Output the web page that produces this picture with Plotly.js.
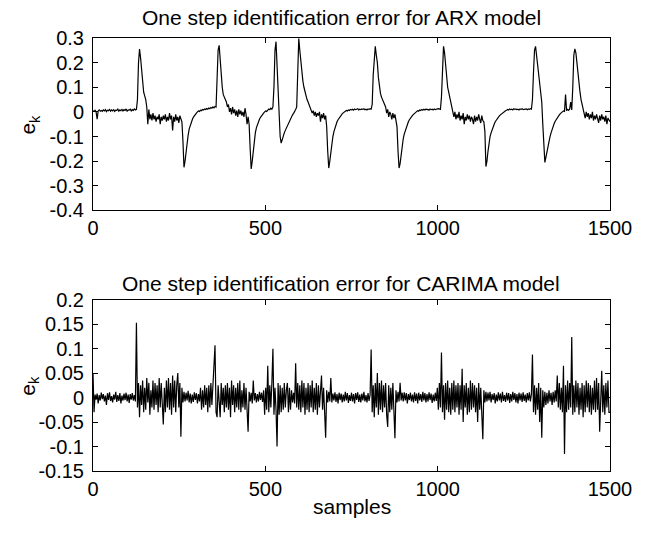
<!DOCTYPE html>
<html><head><meta charset="utf-8">
<script src="https://cdn.plot.ly/plotly-3.0.1.min.js"></script>
<style>html,body{margin:0;padding:0;background:#fff;} #chart{width:645px;height:534px;}</style>
</head><body><div id="chart"></div>
<script>
const sampleStep = 3;
const arxError = [
 0.005, 0.002, 0.007, 0.0, -0.03, 0.004, 0.008, 0.003, 0.006, 0.002,
 0.008, 0.004, 0.009, 0.001, 0.007, 0.005, 0.01, 0.003, 0.008, 0.004,
 0.009, 0.002, 0.007, 0.006, 0.011, 0.003, 0.008, 0.005, 0.01, 0.004,
 0.009, 0.006, 0.012, 0.003, 0.008, 0.007, 0.011, 0.004, 0.009, 0.006,
 0.012, 0.008, 0.01, 0.05, 0.2, 0.255, 0.22, 0.17, 0.12, 0.08,
 0.065, 0.05, 0.02, -0.05, 0.01, -0.03, -0.01, -0.035, -0.005, -0.03,
 -0.015, -0.04, -0.02, -0.03, -0.01, -0.05, -0.02, -0.035, -0.015, -0.03,
 -0.01, -0.04, -0.02, -0.035, -0.005, -0.03, -0.015, -0.075, -0.02, -0.04,
 -0.01, -0.035, -0.02, -0.045, -0.015, -0.03, -0.04, -0.12, -0.225, -0.2,
 -0.16, -0.12, -0.095, -0.07, -0.055, -0.042, -0.032, -0.022, -0.015, -0.01,
 -0.005, 0.0, 0.004, 0.002, 0.007, 0.005, 0.01, 0.008, 0.012, 0.01,
 0.014, 0.011, 0.016, 0.013, 0.018, 0.015, 0.02, 0.016, 0.022, 0.02,
 0.12, 0.25, 0.27, 0.2, 0.14, 0.1, 0.07, 0.06, 0.05, 0.04,
 0.02, 0.03, 0.0, 0.015, -0.01, 0.02, -0.005, 0.01, -0.015, 0.005,
 -0.02, 0.01, -0.01, 0.005, -0.015, 0.0, -0.02, 0.015, -0.01, -0.05,
 -0.02, -0.05, -0.15, -0.232, -0.2, -0.15, -0.11, -0.085, -0.065, -0.05,
 -0.04, -0.03, -0.022, -0.015, -0.01, -0.005, 0.0, 0.004, 0.002, 0.008,
 0.012, 0.009, 0.015, 0.011, 0.02, 0.1, 0.25, 0.285, 0.2, 0.1,
 -0.02, -0.1, -0.127, -0.11, -0.097, -0.085, -0.075, -0.065, -0.055, -0.045,
 -0.035, -0.027, -0.02, -0.012, -0.006, 0.0, 0.01, 0.02, 0.2, 0.298,
 0.25, 0.2, 0.16, 0.125, 0.1, 0.08, 0.06, 0.05, 0.04, 0.03,
 0.02, 0.01, -0.005, 0.005, -0.015, 0.0, -0.02, -0.005, -0.015, 0.0,
 -0.04, -0.01, -0.025, -0.005, -0.03, -0.015, -0.06, -0.16, -0.228, -0.2,
 -0.16, -0.125, -0.1, -0.08, -0.065, -0.052, -0.04, -0.032, -0.025, -0.018,
 -0.013, -0.008, -0.004, 0.0, 0.003, 0.006, 0.004, 0.008, 0.006, 0.01,
 0.008, 0.011, 0.007, 0.012, 0.009, 0.01, 0.013, 0.008, 0.011, 0.009,
 0.012, 0.01, 0.013, 0.009, 0.011, 0.008, 0.012, 0.01, 0.013, 0.011,
 0.03, 0.15, 0.24, 0.266, 0.23, 0.2, 0.14, 0.1, 0.075, 0.06,
 0.05, 0.04, 0.03, 0.02, -0.005, 0.01, -0.02, 0.0, -0.01, -0.03,
 -0.005, -0.025, -0.01, -0.04, -0.06, -0.16, -0.228, -0.21, -0.17, -0.14,
 -0.11, -0.09, -0.075, -0.062, -0.05, -0.04, -0.032, -0.025, -0.019, -0.014,
 -0.01, -0.006, -0.002, 0.002, 0.005, 0.003, 0.008, 0.006, 0.01, 0.007,
 0.011, 0.008, 0.012, 0.009, 0.01, 0.007, 0.012, 0.009, 0.011, 0.008,
 0.012, 0.009, 0.011, 0.01, 0.013, 0.012, 0.01, 0.06, 0.22, 0.266,
 0.24, 0.19, 0.14, 0.1, 0.08, 0.06, 0.04, 0.025, 0.005, -0.02,
 0.0, -0.03, -0.01, -0.025, 0.0, -0.035, -0.015, -0.03, -0.005, -0.05,
 -0.02, -0.035, -0.01, -0.03, -0.015, -0.04, -0.02, -0.03, -0.05, -0.015,
 -0.04, -0.02, -0.035, -0.01, -0.03, -0.045, -0.015, -0.035, -0.04, -0.08,
 -0.222, -0.2, -0.16, -0.125, -0.1, -0.085, -0.07, -0.06, -0.05, -0.04,
 -0.033, -0.027, -0.021, -0.016, -0.012, -0.008, -0.004, -0.001, 0.002, 0.005,
 0.007, 0.01, 0.008, 0.012, 0.009, 0.011, 0.008, 0.013, 0.01, 0.012,
 0.009, 0.011, 0.008, 0.012, 0.01, 0.013, 0.009, 0.011, 0.01, 0.012,
 0.009, 0.012, 0.01, 0.013, 0.011, 0.05, 0.16, 0.25, 0.266, 0.23,
 0.2, 0.16, 0.12, 0.08, 0.04, -0.05, -0.15, -0.205, -0.185, -0.16,
 -0.14, -0.12, -0.1, -0.085, -0.07, -0.058, -0.047, -0.038, -0.03, -0.023,
 -0.017, -0.012, -0.007, -0.003, 0.0, 0.004, 0.002, 0.07, 0.005, 0.01,
 0.006, 0.012, 0.04, 0.008, 0.1, 0.23, 0.256, 0.24, 0.2, 0.15,
 0.11, 0.08, 0.05, 0.03, 0.01, -0.01, -0.025, 0.0, -0.02, -0.005,
 -0.03, -0.01, -0.025, 0.0, -0.035, -0.015, -0.03, -0.01, -0.025, -0.045,
 -0.015, -0.035, -0.01, -0.03, -0.02, -0.04, -0.015, -0.05, -0.025, -0.035,
 -0.04
];
const carimaError = [
 0.05, -0.03, 0.006, -0.004, 0.008, -0.012, 0.005, -0.006, 0.01, -0.003,
 0.007, -0.008, 0.004, -0.015, 0.009, -0.005, 0.011, -0.007, 0.003, -0.01,
 0.006, -0.004, 0.012, -0.009, 0.005, -0.007, 0.009, -0.012, 0.004, -0.006,
 0.008, -0.005, 0.01, -0.008, 0.006, -0.011, 0.007, -0.004, 0.009, -0.006,
 0.005, -0.008, 0.153, -0.02, 0.03, -0.04, 0.025, -0.015, 0.035, -0.03,
 0.02, -0.025, 0.04, -0.01, 0.03, -0.035, 0.015, -0.02, 0.035, -0.025,
 0.03, -0.015, 0.025, -0.03, 0.04, -0.02, 0.03, -0.025, -0.055, 0.02,
 -0.03, 0.035, -0.02, 0.04, -0.025, 0.03, -0.035, 0.045, -0.02, 0.035,
 -0.03, 0.025, 0.05, -0.02, 0.03, -0.08, 0.02, -0.01, 0.012, -0.008,
 0.01, -0.006, 0.014, -0.01, 0.008, -0.012, 0.006, -0.009, 0.011, -0.005,
 0.009, -0.012, 0.007, -0.008, 0.02, -0.025, 0.015, -0.02, 0.025, -0.015,
 0.02, -0.03, 0.025, -0.02, 0.03, -0.015, 0.02, 0.05, 0.107, -0.03,
 -0.04, 0.025, -0.02, -0.04, 0.03, -0.015, 0.02, -0.03, 0.025, -0.02,
 0.03, -0.025, 0.02, -0.04, 0.035, -0.015, 0.025, -0.03, 0.02, -0.02,
 0.03, -0.025, 0.035, -0.03, 0.015, -0.02, 0.03, -0.025, 0.02, -0.015,
 -0.07, 0.012, -0.008, 0.01, -0.012, 0.035, -0.006, 0.009, -0.01, 0.007,
 -0.008, 0.012, -0.005, 0.01, -0.009, 0.015, -0.035, 0.02, -0.025, 0.065,
 -0.03, 0.025, -0.02, 0.03, 0.1, -0.035, 0.02, -0.025, -0.1, 0.03,
 -0.035, 0.025, -0.03, 0.02, -0.025, 0.03, -0.02, 0.015, 0.03, -0.03,
 0.02, -0.025, 0.015, -0.01, 0.01, -0.012, 0.07, -0.02, 0.03, -0.025,
 0.025, -0.03, 0.035, -0.02, 0.03, -0.035, 0.02, -0.025, 0.03, -0.03,
 0.025, -0.02, 0.035, -0.03, 0.02, -0.025, 0.03, -0.035, 0.025, -0.02,
 0.03, 0.045, -0.025, 0.02, -0.03, -0.082, 0.015, -0.01, 0.012, -0.008,
 0.04, -0.01, 0.008, -0.006, 0.011, -0.009, 0.007, -0.012, 0.01, -0.005,
 0.008, -0.01, 0.006, -0.008, 0.012, -0.006, 0.009, -0.011, 0.005, -0.007,
 0.01, -0.008, 0.007, -0.012, 0.009, -0.005, 0.011, -0.009, 0.006, -0.01,
 0.008, -0.006, 0.012, -0.008, 0.005, -0.01, 0.009, -0.007, 0.006, 0.098,
 -0.03, 0.025, -0.04, 0.03, -0.02, 0.05, -0.035, 0.03, -0.025, 0.035,
 -0.03, 0.025, -0.02, 0.03, -0.035, -0.06, 0.025, -0.03, 0.02, -0.025,
 0.03, -0.02, -0.083, 0.015, -0.01, 0.012, -0.008, 0.03, -0.006, 0.01,
 -0.008, 0.011, -0.006, 0.009, -0.012, 0.007, -0.005, 0.01, -0.008, 0.006,
 -0.01, 0.011, -0.007, 0.008, -0.012, 0.01, -0.006, 0.007, -0.009, 0.012,
 -0.006, 0.009, -0.01, 0.007, -0.008, 0.011, -0.005, 0.008, -0.011, 0.006,
 -0.008, 0.01, -0.007, 0.02, -0.025, 0.03, -0.02, 0.092, -0.03, 0.025,
 -0.045, 0.03, -0.025, 0.035, -0.03, 0.02, -0.035, 0.03, -0.025, 0.035,
 -0.03, 0.025, -0.02, 0.03, -0.035, 0.025, -0.025, 0.059, -0.05, 0.025,
 -0.02, 0.03, -0.035, 0.02, -0.03, 0.035, -0.025, 0.03, -0.02, 0.025,
 -0.03, 0.02, -0.05, 0.03, -0.025, 0.02, -0.03, -0.085, 0.015, -0.01,
 0.012, -0.008, 0.01, -0.006, 0.012, -0.01, 0.007, -0.005, 0.009, -0.012,
 0.006, -0.008, 0.011, -0.006, 0.008, -0.01, 0.012, -0.007, 0.005, -0.009,
 0.01, -0.006, 0.009, -0.011, 0.007, -0.008, 0.012, -0.005, 0.009, -0.01,
 0.007, -0.012, 0.01, -0.006, 0.008, -0.009, 0.011, -0.007, 0.006, -0.01,
 0.009, -0.006, 0.011, -0.008, 0.007, 0.088, -0.03, 0.025, -0.035, 0.02,
 -0.025, 0.03, -0.05, 0.02, -0.082, 0.015, -0.02, 0.012, -0.015, 0.01,
 -0.012, 0.015, -0.008, 0.01, -0.015, 0.012, -0.01, 0.015, -0.008, 0.045,
 -0.02, 0.03, -0.025, 0.02, -0.03, 0.065, -0.115, 0.025, -0.03, 0.035,
 -0.025, 0.03, -0.02, 0.124, -0.035, 0.025, -0.03, 0.035, -0.02, 0.03,
 -0.035, 0.02, -0.025, 0.03, -0.04, 0.025, -0.03, 0.035, -0.02, 0.03,
 -0.03, 0.025, -0.035, 0.02, -0.025, 0.035, -0.03, 0.04, -0.025, 0.03,
 -0.07, 0.025, 0.055, -0.03, 0.025, -0.035, 0.03, -0.02, 0.035, -0.03,
 -0.03
];
const xTickVals = [0, 500, 1000, 1500];
const xTickText = ['0', '500', '1000', '1500'];
const arxTickVals = [-0.4, -0.3, -0.2, -0.1, 0, 0.1, 0.2, 0.3];
const arxTickText = ['-0.4', '-0.3', '-0.2', '-0.1', '0', '0.1', '0.2', '0.3'];
const carimaTickVals = [-0.15, -0.1, -0.05, 0, 0.05, 0.1, 0.15, 0.2];
const carimaTickText = ['-0.15', '-0.1', '-0.05', '0', '0.05', '0.1', '0.15', '0.2'];
const panelTitles = ['One step identification error for ARX model', 'One step identification error for CARIMA model'];
const yLabel = 'e<sub>k</sub>';
const xLabel = 'samples';

const arxX = arxError.map((_, i) => i * sampleStep);
const carimaX = carimaError.map((_, i) => i * sampleStep);

const FONT = 'Liberation Sans, Arial, Helvetica, sans-serif';
const lineStyle = {color: '#000', width: 1.2};

const traces = [
  {x: arxX, y: arxError, xaxis: 'x', yaxis: 'y', type: 'scatter', mode: 'lines', line: lineStyle, hoverinfo: 'skip'},
  {x: carimaX, y: carimaError, xaxis: 'x2', yaxis: 'y2', type: 'scatter', mode: 'lines', line: lineStyle, hoverinfo: 'skip'}
];

function axisBase(extra) {
  return Object.assign({
    showline: true, linecolor: '#000', linewidth: 1, mirror: 'ticks',
    ticks: 'inside', ticklen: 5, tickcolor: '#000', tickwidth: 1,
    showgrid: false, zeroline: false, fixedrange: true,
    tickfont: {family: FONT, size: 20, color: '#000'}
  }, extra);
}

const topDomain = [0.6018, 1];
const botDomain = [0, 0.3956];
const labelFont = {family: FONT, size: 21, color: '#000'};

const layout = {
  width: 645, height: 534,
  margin: {l: 93, r: 35, t: 38, b: 63, pad: 0},
  paper_bgcolor: '#fff', plot_bgcolor: '#fff',
  showlegend: false,
  font: {family: FONT, size: 20, color: '#000'},
  xaxis: axisBase({anchor: 'y', domain: [0, 1], range: [0, 1500], tickvals: xTickVals, ticktext: xTickText}),
  yaxis: axisBase({anchor: 'x', domain: topDomain, range: [-0.4, 0.3], tickvals: arxTickVals, ticktext: arxTickText, ticklabelstandoff: 4}),
  xaxis2: axisBase({anchor: 'y2', domain: [0, 1], range: [0, 1500], tickvals: xTickVals, ticktext: xTickText}),
  yaxis2: axisBase({anchor: 'x2', domain: botDomain, range: [-0.15, 0.2], tickvals: carimaTickVals, ticktext: carimaTickText, ticklabelstandoff: 4}),
  annotations: [
    {text: panelTitles[0], xref: 'paper', yref: 'paper', x: 0.48, y: topDomain[1], xanchor: 'center', yanchor: 'bottom', yshift: 7, showarrow: false, font: labelFont},
    {text: panelTitles[1], xref: 'paper', yref: 'paper', x: 0.48, y: botDomain[1], xanchor: 'center', yanchor: 'bottom', yshift: 3, showarrow: false, font: labelFont},
    {text: yLabel, xref: 'paper', yref: 'paper', x: -0.123, y: (topDomain[0] + topDomain[1]) / 2, xanchor: 'center', yanchor: 'middle', textangle: -90, showarrow: false, font: labelFont},
    {text: yLabel, xref: 'paper', yref: 'paper', x: -0.123, y: (botDomain[0] + botDomain[1]) / 2, xanchor: 'center', yanchor: 'middle', textangle: -90, showarrow: false, font: labelFont},
    {text: xLabel, xref: 'paper', yref: 'paper', x: 0.5, y: 0, xanchor: 'center', yanchor: 'top', yshift: -22, showarrow: false, font: labelFont}
  ]
};

Plotly.newPlot('chart', traces, layout, {staticPlot: true, displayModeBar: false});
</script>
</body></html>
